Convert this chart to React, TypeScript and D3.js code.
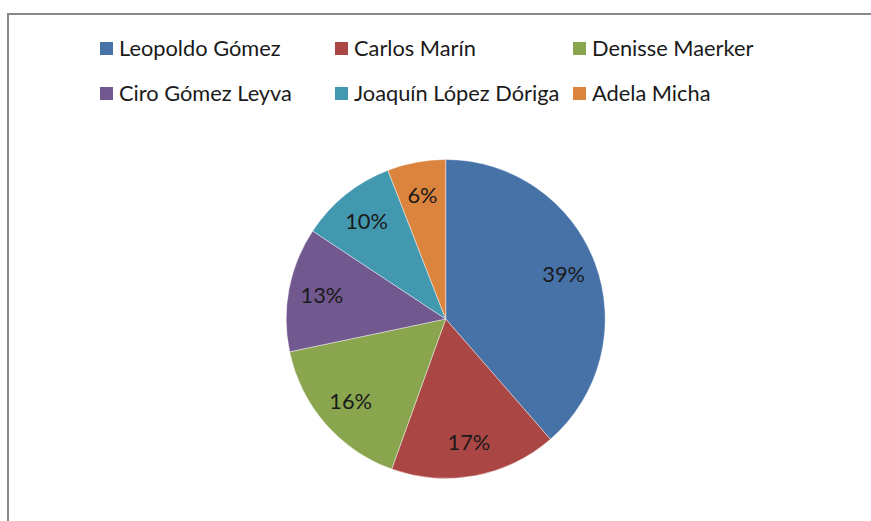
import React from "react";
import * as d3 from "d3";

const names = ["Leopoldo Gómez", "Carlos Marín", "Denisse Maerker", "Ciro Gómez Leyva", "Joaquín López Dóriga", "Adela Micha"];
const values = [38.6, 16.9, 16.2, 12.6, 9.8, 5.9];
const colors = ["#4672A8", "#AA4744", "#89A54E", "#71588F", "#4298AF", "#DB843D"];

const W = 871;
const H = 521;
const FONT = "Lato, 'Open Sans', sans-serif";

export default function App() {
  const cx = 445.7;
  const cy = 319;
  const R = 159.5;
  const total = d3.sum(values);
  const pie = d3.pie<number>().sort(null).value((d) => d)(values);
  const arc = d3.arc<d3.PieArcDatum<number>>().innerRadius(0).outerRadius(R);
  const labelArc = d3.arc<d3.PieArcDatum<number>>().innerRadius(126).outerRadius(126);

  const legendCols = [100, 335, 573];
  const legendRows = [48.5, 93.5];

  return (
    <svg width={W} height={H} style={{ position: "absolute", left: 0, top: 0 }}>
      <rect x={0} y={0} width={W} height={H} fill="#ffffff" />
      <path d={`M8,${H + 5} L8,14 L${W + 5},14`} fill="none" stroke="#878787" strokeWidth={2} />
      <g>
        {names.map((n, i) => {
          const col = legendCols[i % 3];
          const row = legendRows[Math.floor(i / 3)];
          return (
            <g key={n}>
              <rect x={col} y={row - 6.5} width={13} height={13} fill={colors[i]} />
              <text x={col + 19} y={row} dy="0.35em" fontFamily={FONT} fontSize={21.8} fill="#1a1a1a">
                {n}
              </text>
            </g>
          );
        })}
      </g>
      <g transform={`translate(${cx},${cy})`}>
        {pie.map((p, i) => (
          <path key={i} d={arc(p) || ""} fill={colors[i]} stroke="#ffffff" strokeWidth={0.6} strokeOpacity={0.7} />
        ))}
        {pie.map((p, i) => {
          const [x, y] = labelArc.centroid(p);
          return (
            <text key={"l" + i} x={x} y={y} dy="0.35em" textAnchor="middle" fontFamily={FONT} fontSize={21.8} fill="#1a1a1a">
              {`${Math.round((p.data / total) * 100)}%`}
            </text>
          );
        })}
      </g>
    </svg>
  );
}
